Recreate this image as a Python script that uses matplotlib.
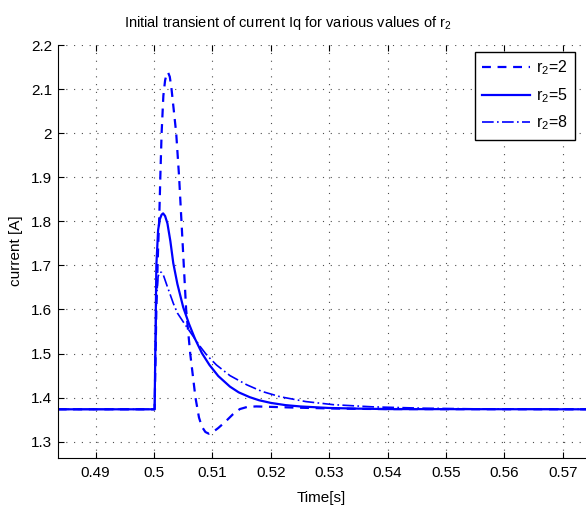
import matplotlib
matplotlib.use("Agg")
import matplotlib.pyplot as plt

plt.rcParams['font.family'] = ['Liberation Sans', 'DejaVu Sans']
plt.rcParams['mathtext.default'] = 'regular'

B = 1.3735
# r2 = 2 (dashed)
t_r2 = [0.4835, 0.5001, 0.5004, 0.5007, 0.5009, 0.5011, 0.5013, 0.5016, 0.5019, 0.5022,
        0.5024, 0.5027, 0.5030, 0.5034, 0.5038, 0.5043, 0.5047, 0.5051, 0.5055, 0.5062,
        0.5071, 0.5077, 0.5082, 0.5088, 0.5094, 0.5100, 0.5110, 0.5122, 0.5135, 0.5147,
        0.5160, 0.5175, 0.520, 0.525, 0.530, 0.535, 0.540, 0.574]
v_r2 = [B, B, 1.60, 1.74, 1.81, 1.91, 2.00, 2.085, 2.12, 2.136,
        2.138, 2.128, 2.10, 2.05, 2.00, 1.90, 1.80, 1.70, 1.60, 1.50,
        1.40, 1.355, 1.334, 1.322, 1.318, 1.321, 1.331, 1.345, 1.362, 1.374,
        1.379, 1.380, 1.379, 1.377, 1.3755, 1.3745, 1.374, B]

# r2 = 5 (solid)
t_r5 = [0.4835, 0.5001, 0.5004, 0.5007, 0.5010, 0.5013, 0.50156, 0.5019, 0.5023, 0.5028,
        0.5033, 0.5040, 0.5050, 0.5060, 0.5070, 0.5082, 0.5095, 0.5110, 0.5130, 0.5145,
        0.5164, 0.5180, 0.520, 0.5225, 0.525, 0.530, 0.535, 0.540, 0.574]
v_r5 = [B, B, 1.70, 1.78, 1.805, 1.815, 1.818, 1.812, 1.795, 1.755,
        1.705, 1.658, 1.605, 1.567, 1.534, 1.501, 1.474, 1.449, 1.425, 1.412,
        1.401, 1.394, 1.388, 1.383, 1.380, 1.3765, 1.375, 1.374, B]

# r2 = 8 (dash-dot)
t_r8 = [0.4835, 0.5001, 0.5004, 0.5007, 0.5010, 0.5013, 0.5016, 0.5022, 0.5033, 0.5040,
        0.5050, 0.5065, 0.5079, 0.5090, 0.5107, 0.5130, 0.5159, 0.5185, 0.5216, 0.526,
        0.5307, 0.5375, 0.5461, 0.555, 0.574]
v_r8 = [B, B, 1.62, 1.675, 1.685, 1.684, 1.678, 1.655, 1.614, 1.592,
        1.572, 1.543, 1.516, 1.497, 1.474, 1.450, 1.429, 1.414, 1.402, 1.391,
        1.384, 1.379, 1.376, 1.3745, B]

labels = ['r$_2$=2', 'r$_2$=5', 'r$_2$=8']
xticks = [0.49, 0.50, 0.51, 0.52, 0.53, 0.54, 0.55, 0.56, 0.57]
yticks = [1.3, 1.4, 1.5, 1.6, 1.7, 1.8, 1.9, 2.0, 2.1, 2.2]

W, H = 586, 507
fig = plt.figure(figsize=(W / 100, H / 100), dpi=100)
ax = fig.add_axes([57.7 / W, 49 / H, (W - 57.7) / W, (458 - 45) / H])

blue = (0, 0, 1)
ax.plot(t_r2, v_r2, color=blue, lw=1.6, linestyle=(0, (4, 3)), label=labels[0])
ax.plot(t_r5, v_r5, color=blue, lw=1.6, linestyle='-', label=labels[1])
ax.plot(t_r8, v_r8, color=blue, lw=1.2, linestyle=(0, (7, 2, 1, 2)), label=labels[2])

ax.set_xlim(0.4835, 0.574)
ax.set_ylim(1.263, 2.2)
ax.set_xticks(xticks)
ax.set_xticklabels(['%g' % x for x in xticks])
ax.set_yticks(yticks)
ax.set_yticklabels(['%g' % y for y in yticks])
ax.tick_params(direction='in', length=4, width=0.8, labelsize=11, top=True, right=False)
ax.tick_params(axis='x', pad=6)
ax.tick_params(axis='y', pad=4)
ax.spines['top'].set_visible(False)
ax.spines['right'].set_visible(False)
ax.grid(True, color='0.3', linestyle=(0, (1, 6)), linewidth=0.8)

leg = ax.legend(loc='upper right', bbox_to_anchor=(0.979, 0.984), fontsize=11.5,
                handlelength=3.0, handletextpad=0.35, labelspacing=0.55,
                fancybox=False, framealpha=1, edgecolor='black', borderpad=0.45,
                borderaxespad=0)
leg.get_frame().set_linewidth(1.0)

fig.text(288 / W, 1 - 27 / H, 'Initial transient of current Iq for various values of r$_2$',
         ha='center', va='baseline', fontsize=10.5)
fig.text(321 / W, 1 - 502 / H, 'Time[s]', ha='center', va='baseline', fontsize=11)
fig.text(16 / W, 1 - 251 / H, 'current [A]', ha='center', va='center', rotation=90, fontsize=11)

fig.savefig('out.png', dpi=100)
